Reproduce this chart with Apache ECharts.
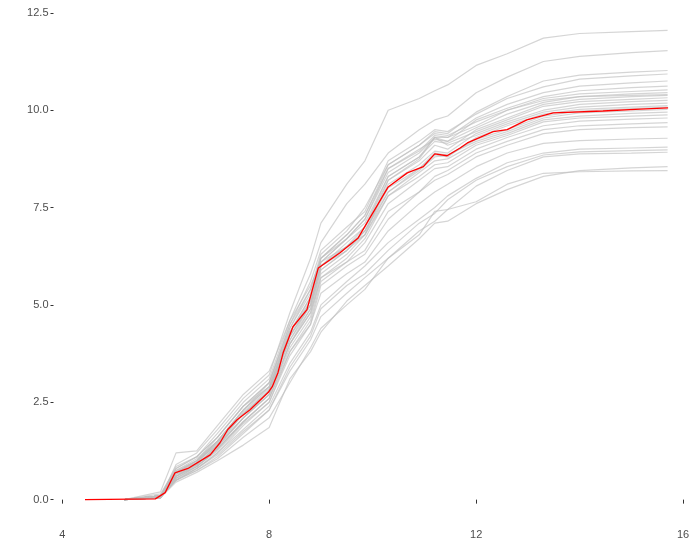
<!DOCTYPE html>
<html>
<head>
<meta charset="utf-8">
<script src="https://cdn.jsdelivr.net/npm/echarts@6/dist/echarts.min.js"></script>
<style>
html,body{margin:0;padding:0;background:#fff;}
#chart{width:695px;height:542px;}
</style>
</head>
<body>
<div id="chart"></div>
<script>
// Shared x positions for the grey curves
var xGrid = [5.2, 5.9, 6.2, 6.6, 7.0, 7.5, 8.0, 8.4, 8.8, 9.0, 9.5, 9.85, 10.3, 10.9, 11.2, 11.45, 12.0, 12.6, 13.3, 14.0, 15.0, 15.7];

var grey01 = [0, 0.05, 0.9, 1.2, 1.8, 2.6, 3.2, 4.8, 6.2, 7.1, 8.1, 8.7, 10.0, 10.3, 10.5, 10.65, 11.15, 11.45, 11.85, 11.97, 12.02, 12.05];
var grey02 = [0, 0.1, 0.8, 1.1, 1.7, 2.5, 3.1, 4.6, 5.8, 6.6, 7.6, 8.1, 8.9, 9.5, 9.75, 9.85, 10.45, 10.85, 11.25, 11.38, 11.48, 11.53];
var grey03 = [0, 0.05, 0.7, 1.0, 1.6, 2.4, 3.0, 4.4, 5.4, 6.3, 6.9, 7.5, 8.6, 9.1, 9.45, 9.4, 9.95, 10.35, 10.75, 10.9, 10.98, 11.02];
var grey04 = [0, 0.1, 0.75, 1.05, 1.5, 2.3, 3.0, 4.5, 5.6, 6.4, 7.0, 7.4, 8.7, 9.2, 9.5, 9.45, 9.9, 10.3, 10.6, 10.8, 10.88, 10.93];
var grey05 = [0, 0.15, 0.8, 1.1, 1.6, 2.4, 2.9, 4.4, 5.3, 6.2, 6.8, 7.3, 8.5, 8.95, 9.35, 9.3, 9.8, 10.15, 10.45, 10.62, 10.7, 10.75];
var grey06 = [0, 0.05, 0.6, 0.95, 1.5, 2.3, 2.9, 4.3, 5.2, 6.1, 6.7, 7.2, 8.4, 8.9, 9.3, 9.2, 9.75, 10.05, 10.35, 10.5, 10.58, 10.62];
var grey07 = [0, 0.1, 0.7, 1.0, 1.5, 2.2, 2.8, 4.3, 5.2, 6.2, 6.7, 7.1, 8.3, 8.8, 9.3, 9.3, 9.6, 10.0, 10.3, 10.42, 10.48, 10.52];
var grey08 = [0, 0.2, 1.2, 1.25, 1.9, 2.7, 3.3, 4.6, 5.5, 6.1, 6.7, 7.2, 8.5, 9.0, 9.25, 9.2, 9.55, 9.9, 10.2, 10.35, 10.42, 10.45];
var grey09 = [0, 0.05, 0.65, 0.9, 1.4, 2.2, 2.8, 4.1, 5.0, 6.0, 6.5, 7.0, 8.2, 8.7, 9.1, 9.0, 9.5, 9.8, 10.15, 10.28, 10.35, 10.38];
var grey10 = [0, 0.1, 0.7, 1.0, 1.4, 2.1, 2.7, 4.2, 5.1, 6.0, 6.6, 7.0, 8.3, 8.8, 9.2, 9.15, 9.45, 9.75, 10.1, 10.22, 10.28, 10.32];
var grey11 = [0, 0.05, 0.55, 0.85, 1.3, 2.0, 2.6, 4.0, 4.9, 5.9, 6.4, 6.9, 8.1, 8.6, 8.95, 8.9, 9.4, 9.7, 10.0, 10.15, 10.22, 10.25];
var grey12 = [0, 0.1, 0.7, 0.95, 1.45, 2.25, 2.85, 4.2, 5.0, 6.1, 6.5, 6.8, 8.2, 8.75, 9.3, 9.1, 9.35, 9.65, 9.95, 10.08, 10.15, 10.18];
var grey13 = [0, 0.05, 0.6, 0.9, 1.4, 2.1, 2.7, 4.0, 4.8, 5.8, 6.3, 6.8, 7.9, 8.5, 8.85, 8.8, 9.3, 9.6, 9.9, 10.02, 10.08, 10.12];
var grey14 = [0, 0.1, 0.65, 0.9, 1.35, 2.1, 2.8, 4.1, 4.9, 5.9, 6.4, 6.9, 7.9, 8.45, 8.8, 8.85, 9.2, 9.45, 9.8, 9.93, 9.98, 10.02];
var grey15 = [0, 0.05, 0.6, 0.85, 1.3, 2.0, 2.6, 3.9, 4.7, 5.7, 6.2, 6.7, 7.8, 8.4, 8.7, 8.75, 9.15, 9.4, 9.75, 9.85, 9.92, 9.95];
var grey16 = [0, 0.1, 0.75, 1.0, 1.5, 2.3, 2.9, 4.3, 5.1, 6.0, 6.4, 6.8, 7.8, 8.3, 8.6, 8.65, 9.1, 9.35, 9.7, 9.8, 9.85, 9.88];
var grey17 = [0, 0.05, 0.5, 0.8, 1.2, 1.9, 2.5, 3.8, 4.6, 5.6, 6.1, 6.6, 7.6, 8.2, 8.5, 8.55, 9.0, 9.3, 9.6, 9.72, 9.77, 9.8];
var grey18 = [0, 0.1, 0.6, 0.9, 1.35, 2.1, 2.7, 4.0, 4.8, 5.7, 6.1, 6.4, 7.4, 7.9, 8.3, 8.45, 8.9, 9.2, 9.5, 9.6, 9.65, 9.68];
var grey19 = [0, 0.05, 0.55, 0.85, 1.25, 1.95, 2.5, 3.7, 4.5, 5.5, 6.0, 6.3, 7.2, 7.9, 8.2, 8.35, 8.8, 9.1, 9.4, 9.5, 9.55, 9.57];
var grey20 = [0, 0.1, 0.6, 0.85, 1.3, 2.0, 2.6, 3.8, 4.5, 5.3, 5.8, 6.1, 6.9, 7.6, 7.9, 8.1, 8.55, 8.9, 9.15, 9.22, 9.26, 9.28];
var grey21 = [0, 0.05, 0.5, 0.8, 1.2, 1.8, 2.4, 3.5, 4.3, 5.0, 5.6, 6.0, 6.6, 7.2, 7.5, 7.8, 8.25, 8.65, 8.9, 9.0, 9.03, 9.05];
var grey22 = [0, 0.1, 0.55, 0.8, 1.15, 1.75, 2.3, 3.4, 4.2, 4.9, 5.5, 5.8, 6.4, 7.1, 7.35, 7.7, 8.2, 8.55, 8.85, 8.93, 8.96, 8.98];
var grey23 = [0, 0.05, 0.5, 0.75, 1.1, 1.7, 2.3, 3.3, 4.1, 4.7, 5.3, 5.7, 6.2, 6.9, 7.15, 7.45, 8.05, 8.45, 8.8, 8.88, 8.9, 8.92];
var grey24 = [0, 0.05, 0.45, 0.7, 1.0, 1.4, 1.85, 3.1, 3.8, 4.3, 5.1, 5.5, 6.0, 6.7, 7.1, 7.15, 7.6, 7.96, 8.3, 8.45, 8.52, 8.55];
var grey25 = [0, 0.1, 0.5, 0.75, 1.05, 1.6, 2.1, 3.0, 3.9, 4.4, 5.0, 5.4, 6.2, 6.8, 7.4, 7.45, 7.65, 8.1, 8.38, 8.42, 8.44, 8.45];
var grey26 = [0, 0.05, 0.7, 0.95, 1.45, 2.2, 2.8, 4.2, 5.0, 6.0, 6.5, 6.9, 8.0, 8.5, 8.9, 8.85, 9.25, 9.5, 9.85, 9.98, 10.04, 10.08];
var grey27 = [0, 0.1, 0.85, 1.1, 1.6, 2.4, 3.0, 4.5, 5.4, 6.2, 6.8, 7.3, 8.6, 9.1, 9.4, 9.35, 9.7, 10.0, 10.25, 10.35, 10.38, 10.4];

var greySeries = [grey01, grey02, grey03, grey04, grey05, grey06, grey07, grey08, grey09, grey10,
  grey11, grey12, grey13, grey14, grey15, grey16, grey17, grey18, grey19, grey20,
  grey21, grey22, grey23, grey24, grey25, grey26, grey27];

// Red (mean) curve
var redX = [4.44, 5.8, 5.99, 6.18, 6.43, 6.86, 7.05, 7.2, 7.38, 7.63, 7.98, 8.06, 8.17, 8.27, 8.46, 8.73, 8.95, 9.37, 9.72, 10.3, 10.67, 10.98, 11.2, 11.44, 11.69, 11.83, 12.33, 12.6, 12.98, 13.49, 14.45, 15.17, 15.71];
var redY = [0, 0.02, 0.18, 0.69, 0.8, 1.15, 1.46, 1.8, 2.05, 2.31, 2.75, 2.9, 3.26, 3.77, 4.44, 4.88, 5.95, 6.34, 6.72, 8.03, 8.39, 8.55, 8.88, 8.83, 9.03, 9.16, 9.45, 9.5, 9.75, 9.93, 9.98, 10.03, 10.06];

var xTicks = [4, 8, 12, 16];
var yTicks = [0, 2.5, 5, 7.5, 10, 12.5];

function pairs(xs, ys) {
  var out = [];
  for (var i = 0; i < xs.length; i++) out.push([xs[i], ys[i]]);
  return out;
}

var series = [];
greySeries.forEach(function (ys, i) {
  series.push({
    type: 'line', name: 'g' + i, data: pairs(xGrid, ys),
    symbol: 'none', silent: true,
    lineStyle: { color: 'rgba(190,190,190,0.65)', width: 1.2 },
    z: 2
  });
});
series.push({
  type: 'line', name: 'mean', data: pairs(redX, redY),
  symbol: 'none', silent: true,
  lineStyle: { color: '#ff0000', width: 1.3 },
  z: 5
});

var chart = echarts.init(document.getElementById('chart'), null, { renderer: 'canvas' });
chart.setOption({
  animation: false,
  backgroundColor: '#ffffff',
  grid: { left: 56, right: 0, top: 7, bottom: 19, containLabel: false },
  xAxis: {
    type: 'value', min: 3.88, max: 16.23,
    splitLine: { show: false },
    axisLine: { show: false },
    axisTick: { show: true, length: 4, customValues: xTicks, lineStyle: { color: '#333333', width: 1 } },
    axisLabel: { show: true, customValues: xTicks, margin: 6, color: '#4d4d4d', fontSize: 11, fontFamily: 'Liberation Sans, Arial, sans-serif' }
  },
  yAxis: {
    type: 'value', min: -0.6, max: 12.65, offset: 2.5,
    splitLine: { show: false },
    axisLine: { show: false },
    axisTick: { show: true, length: 3, customValues: yTicks, lineStyle: { color: '#333333', width: 1 } },
    axisLabel: {
      show: true, customValues: yTicks, margin: 5, color: '#4d4d4d', fontSize: 11,
      fontFamily: 'Liberation Sans, Arial, sans-serif',
      formatter: function (v) { return Number(v).toFixed(1); }
    }
  },
  series: series
});
</script>
</body>
</html>
